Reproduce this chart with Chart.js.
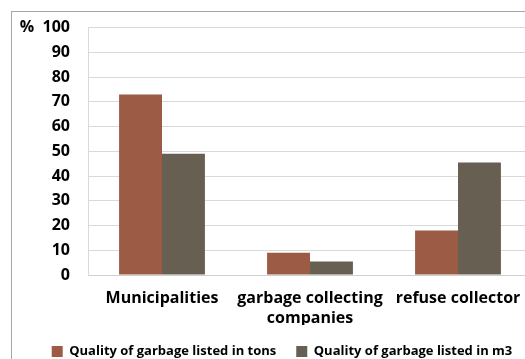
<!DOCTYPE html>
<html>
<head>
<meta charset="utf-8">
<script src="https://cdn.jsdelivr.net/npm/chart.js@4"></script>
<style>
  html, body { margin: 0; padding: 0; background: #fff; overflow: hidden; }
  #wrap { position: relative; width: 525px; height: 359px; overflow: hidden; }
  #frame {
    position: absolute; left: 11px; top: 11px; width: 600px; height: 400px;
    border-left: 1px solid #a6a6a6; border-top: 1px solid #a6a6a6;
  }
  #box { position: absolute; left: 0; top: 0; width: 545px; height: 368px; }
</style>
</head>
<body>
<div id="wrap">
  <div id="frame"></div>
  <div id="box"><canvas id="garbageChart"></canvas></div>
</div>
<script>
// Garbage quantity records by collector type (%)
const collectors = ["Municipalities", ["garbage collecting", "companies"], "refuse collector"];
const inTons = [73, 9, 18];
const inCubicMeters = [49, 5.5, 45.5];
const yTicks = [0, 10, 20, 30, 40, 50, 60, 70, 80, 90, 100];

const labelFont = { family: "Open Sans", weight: "bold", size: 16 };

// nudge the legend row to the right so it sits under the bars
const legendShift = {
  id: "legendShift",
  afterLayout(chart) {
    chart.legend.left += 16;
    chart.legend.right += 16;
  }
};

const ctx = document.getElementById("garbageChart").getContext("2d");
const garbageChart = new Chart(ctx, {
  type: "bar",
  data: {
    labels: collectors,
    datasets: [
      {
        label: "Quality of garbage listed in tons",
        data: inTons,
        backgroundColor: "#9b5b45"
      },
      {
        label: "Quality of garbage listed in m3",
        data: inCubicMeters,
        backgroundColor: "#665f52"
      }
    ]
  },
  options: {
    responsive: true,
    maintainAspectRatio: false,
    animation: false,
    datasets: {
      bar: { categoryPercentage: 0.58, barPercentage: 1 }
    },
    layout: {
      padding: { left: 0, right: 13, top: 23, bottom: 0 }
    },
    plugins: {
      tooltip: { enabled: false },
      legend: {
        position: "bottom",
        labels: {
          boxWidth: 11,
          boxHeight: 11,
          padding: 20,
          color: "#000",
          font: { family: "Open Sans", weight: "bold", size: 13 }
        }
      }
    },
    scales: {
      x: {
        grid: { display: false },
        border: { color: "#d0d0d0" },
        ticks: {
          color: "#000",
          padding: 5,
          autoSkip: false,
          maxRotation: 0,
          font: { ...labelFont, lineHeight: 1.25 }
        },
        afterFit: scale => { scale.height = 50; }
      },
      y: {
        min: 0,
        max: 100,
        afterBuildTicks: scale => {
          scale.ticks = yTicks.map(v => ({ value: v }));
        },
        afterFit: scale => { scale.width = 88; },
        grid: { color: "#d9d9d9", drawTicks: false },
        border: { color: "#d9d9d9" },
        ticks: {
          color: "#000",
          padding: 18,
          autoSkip: false,
          font: labelFont,
          callback: v => (v === 100 ? "%  100" : v)
        }
      }
    }
  },
  plugins: [legendShift]
});
</script>
</body>
</html>
